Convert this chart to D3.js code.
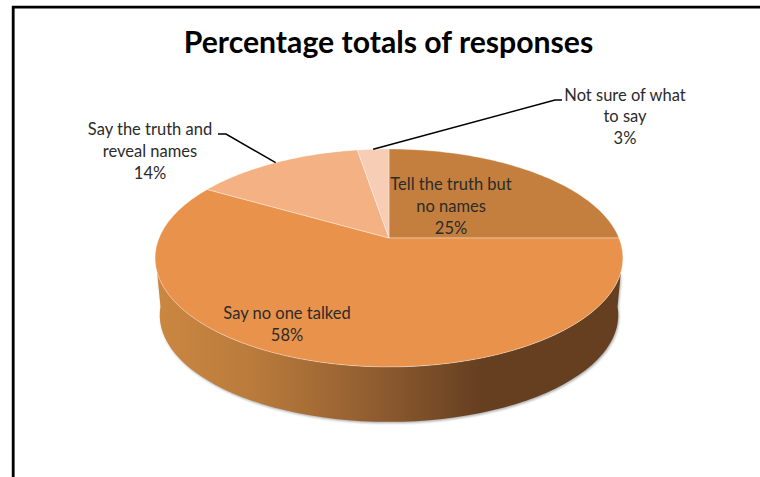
<!DOCTYPE html>
<html><head><meta charset="utf-8">
<script src="https://cdn.jsdelivr.net/npm/d3@7/dist/d3.min.js"></script>
<style>html,body{margin:0;padding:0;background:#fff;overflow:hidden}svg{display:block}</style>
</head><body><div id="c"></div>
<script>
const chartTitle = "Percentage totals of responses";
const categories = ["Tell the truth but no names","Say no one talked","Say the truth and reveal names","Not sure of what to say"];
const values = [25,58.4,14,2.6];
const labelLines = [["Tell the truth but","no names"],["Say no one talked"],["Say the truth and","reveal names"],["Not sure of what","to say"]];
const colors = ["#c47f3e","#e9924b","#f4b183","#f7cdb6"];

const W=760,H=477, cx=389, cy=238, b=230, a=105.3, k=0.1834, depth=57.5, shrink=0.98;
const font="Lato, 'Open Sans', sans-serif";
const svg=d3.select("#c").append("svg").attr("width",W).attr("height",H);
const defs=svg.append("defs");
const sx=d3.scaleLinear().domain([-1,1]).range([-b,b]);
const sy=d3.scaleLinear().domain([-1,1]).range([a,-a]);
// Tilted-disc projection of a pie angle on the rim
function proj(t){const u=Math.sin(t),v=Math.cos(t),w=1+k*v;return [cx+sx(u)/w,cy+sy(v)/w];}
function projBottom(t){const u=Math.sin(t),v=Math.cos(t),w=1+k*v;return [cx+shrink*sx(u)/w,cy+depth+shrink*sy(v)/w];}
const line=d3.line();
const pie=d3.pie().sort(null).value(d=>d)(values);
const arcSamples=(s,e,f)=>d3.range(0,61).map(i=>f(s+(e-s)*i/60));

// wall gradient
const x0=157,x1=622;
const g=defs.append("linearGradient").attr("id","wall").attr("gradientUnits","userSpaceOnUse")
  .attr("x1",x0).attr("x2",x1).attr("y1",0).attr("y2",0);
[[157,"#cb8741"],[260,"#b87a3b"],[380,"#8e5b2f"],[482,"#653f20"],[622,"#653f20"]].forEach(s=>
  g.append("stop").attr("offset",(s[0]-x0)/(x1-x0)).attr("stop-color",s[1]));
defs.append("filter").attr("id","soft").attr("x","-5%").attr("y","-5%").attr("width","110%").attr("height","115%")
  .append("feGaussianBlur").attr("stdDeviation",1.3);

// frame
svg.append("path").attr("d",line([[13.2,H+5],[13.2,7.2],[W+5,7.2]])).attr("fill","none").attr("stroke","#000").attr("stroke-width",2.8);

// side wall
const topFront=arcSamples(Math.PI*0.6,Math.PI*1.4,proj);
const botFront=arcSamples(Math.PI*1.467,Math.PI*0.533,projBottom);
const wallPts=topFront.concat(botFront);
svg.append("path").attr("d",line(wallPts)+"Z").attr("transform","translate(1,1.5)")
  .attr("fill","#8a8a8a").attr("opacity",.65).attr("filter","url(#soft)");
svg.append("path").attr("d",line(wallPts)+"Z").attr("fill","url(#wall)");

// top slices
svg.append("g").selectAll("path").data(pie).join("path")
  .attr("d",d=>line([[cx,cy],...arcSamples(d.startAngle,d.endAngle,proj)])+"Z")
  .attr("fill",(d,i)=>colors[i]).attr("stroke","#fff").attr("stroke-opacity",.45).attr("stroke-width",.8).attr("stroke-linejoin","round");

// leader lines
const leaders={2:[[226,134],[218,134]],3:[[555,100],[562,100]]};
svg.append("g").selectAll("path").data(pie.filter((d,i)=>leaders[i])).join("path")
  .attr("d",d=>line([proj((d.startAngle+d.endAngle)/2),...leaders[d.index]]))
  .attr("fill","none").attr("stroke","#000").attr("stroke-width",1.5);

// labels
const labelPos=[[451,190],[287,319],[150,135],[625,100.5]];
const lh=21.8;
const t=svg.append("g").attr("font-family",font).attr("font-size",16.5).attr("fill","#2b2b2b").attr("text-anchor","middle");
pie.forEach((d,i)=>{
  const lines=labelLines[i].concat(d3.format(".0f")(d.value)+"%");
  lines.forEach((s,j)=>t.append("text").attr("x",labelPos[i][0]).attr("y",labelPos[i][1]+j*lh).text(s));
});
svg.append("text").attr("x",388.5).attr("y",53).attr("text-anchor","middle").attr("font-family",font)
  .attr("font-weight",700).attr("font-size",30.2).attr("fill","#000").text(chartTitle);
</script></body></html>
